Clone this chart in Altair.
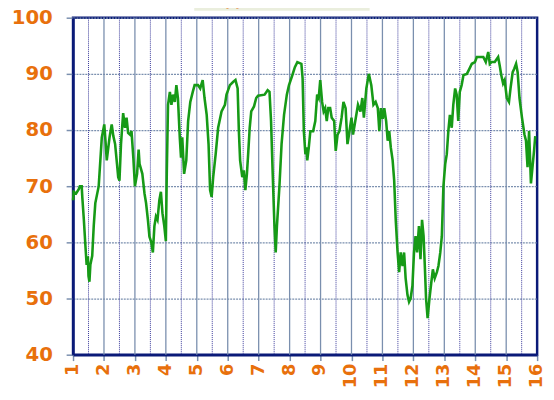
import altair as alt
import pandas as pd

# series
xs = [1.00,1.02,1.10,1.19,1.22,1.28,1.30,1.35,1.40,1.44,1.48,1.50,1.53,1.56,1.62,1.67,1.72,1.83,1.93,2.01,
      2.05,2.09,2.18,2.25,2.30,2.36,2.42,2.46,2.50,2.55,2.62,2.68,2.73,2.78,2.84,2.89,2.95,3.00,3.07,3.12,
      3.15,3.24,3.31,3.36,3.42,3.47,3.53,3.58,3.63,3.68,3.73,3.79,3.84,3.89,3.95,4.00,4.03,4.07,4.13,4.18,
      4.23,4.29,4.34,4.39,4.45,4.49,4.53,4.59,4.66,4.72,4.79,4.87,4.93,5.04,5.11,5.19,5.25,5.32,5.38,5.43,
      5.48,5.53,5.61,5.69,5.80,5.91,5.96,6.07,6.18,6.25,6.32,6.36,6.40,6.47,6.52,6.57,6.62,6.66,6.71,6.76,
      6.85,6.92,6.98,7.19,7.29,7.35,7.40,7.45,7.51,7.55,7.59,7.67,7.74,7.82,7.91,7.98,8.09,8.17,8.25,8.38,
      8.42,8.46,8.51,8.54,8.57,8.62,8.67,8.76,8.83,8.89,8.94,8.99,9.05,9.10,9.15,9.20,9.25,9.31,9.36,9.44,
      9.49,9.55,9.61,9.68,9.74,9.81,9.87,9.92,10.00,10.05,10.14,10.21,10.29,10.35,10.40,10.48,10.56,10.64,10.71,10.78,
      10.85,10.90,10.95,11.01,11.06,11.12,11.17,11.22,11.27,11.33,11.38,11.43,11.49,11.54,11.59,11.65,11.70,11.75,11.81,11.86,
      11.91,11.97,12.02,12.07,12.12,12.18,12.23,12.28,12.33,12.37,12.41,12.46,12.52,12.58,12.63,12.69,12.76,12.81,12.87,12.92,
      12.97,13.03,13.08,13.13,13.18,13.24,13.29,13.35,13.40,13.45,13.50,13.56,13.62,13.73,13.81,13.89,13.99,14.05,14.26,14.34,
      14.42,14.47,14.52,14.63,14.74,14.79,14.84,14.90,14.95,15.02,15.09,15.14,15.21,15.26,15.32,15.37,15.43,15.51,15.59,15.64,
      15.69,15.74,15.80,15.85,15.90,15.94]
ys = [67.5,69,68.7,69.5,70,70,68,64,59.4,56,57.5,54,53,56,57.6,63,67,70,78.7,81,
      78,74.6,78.7,81,79,77.5,74,71.6,71,77.5,83,80.4,82.2,79.5,79.2,79.8,75,70,72.2,76.5,
      74,72.2,68.7,67,64,61,60,58.2,62.9,64.6,64,67.5,69,65.2,62.9,60.2,72.2,84.5,86.8,84.5,
      86.3,85,88,85.7,78.7,75.1,78.7,72.2,74.6,81.6,85,86.8,88,88,87.4,88.9,85.7,82.7,77.5,69.3,
      68.1,71.6,75.7,80.4,83.3,84.5,86.3,88,88.6,88.9,87.4,79.8,74.6,71.6,72.8,69.3,72.2,75.7,80.4,83.3,
      84.2,85.7,86.1,86.3,87.1,86.8,81.6,72.8,62.9,58.2,62.9,69.9,77.5,82.7,86.3,88,89.8,91.2,92.1,91.8,
      89.2,79.8,75.7,76.9,74.6,76.9,79.8,79.8,81.6,86.3,85.7,88.9,85,83.3,83.9,81.6,83.9,83.9,82.2,81.6,
      76.3,79.2,79.8,82.2,85,83.9,77.5,79.2,82.2,79.2,82.2,84.5,83.3,85.7,82.2,87.4,90,88,84.5,85,
      83.9,79.8,83.9,82,83.9,81.6,78.1,79.8,76.9,74.6,71,64,58.2,54.7,58.2,55.8,58.2,53.6,50.6,49.4,
      50,52.3,58.2,61.1,58.2,62.9,57,64,61.1,55.8,50,46.5,50,52.9,55.2,53.6,54.7,55.8,58.2,61.1,
      69.9,74,75.7,79.8,82.7,80.4,84.5,87.4,86.3,81.6,86.8,88,89.8,90,90.9,91.8,92.1,93,93,92.1,
      93.9,91.8,92.1,92.1,93,91.5,89.8,88.3,88.9,85.7,85,87.4,90.3,90.9,91.8,90.3,85.7,82.2,79.2,78.1,
      73.4,79.8,70.5,73.4,76.3,78.9]

x_ticks = list(range(1, 17))
y_ticks = [40, 50, 60, 70, 80, 90, 100]
half_grid = [1.5, 2.5, 3.5, 4.5, 5.5, 6.5, 7.5, 8.5, 9.5, 10.5, 11.5, 12.5, 13.5, 14.5, 15.5]
int_grid = list(range(2, 16))
title_text = "ОДОБРЕНИЕ, %"

orange = "#e8700c"
navy = "#0a1a78"
gridc = "#7a8fae"

df = pd.DataFrame({"x": xs, "y": ys})
xscale = alt.Scale(domain=[1, 16], nice=False, zero=False)
yscale = alt.Scale(domain=[40, 100], nice=False, zero=False)

xaxis = alt.Axis(values=x_ticks, title=None, labels=False, grid=False,
                 tickColor=gridc, tickSize=6, tickWidth=1.5,
                 domainColor=navy, domainWidth=2.5)
yaxis = alt.Axis(values=y_ticks, title=None, grid=True, gridColor=gridc,
                 gridDash=[2, 1], gridWidth=1.3,
                 labelColor=orange, labelFont="DejaVu Sans", labelFontWeight="bold",
                 labelFontSize=20, tickColor=gridc, tickSize=7, tickWidth=1.5,
                 labelPadding=14, domainColor=navy, domainWidth=2.5, labelFlush=False)

vhalf = alt.Chart(pd.DataFrame({"g": half_grid})).mark_rule(
    color="#3a3a9a", strokeWidth=1, strokeDash=[1, 1]
).encode(x=alt.X("g:Q", scale=xscale, axis=xaxis))

vint = alt.Chart(pd.DataFrame({"g": int_grid})).mark_rule(
    color=gridc, strokeWidth=1.3
).encode(x=alt.X("g:Q", scale=xscale, axis=xaxis))

line = alt.Chart(df).mark_line(color="#169a16", strokeWidth=2.6).encode(
    x=alt.X("x:Q", scale=xscale, axis=xaxis),
    y=alt.Y("y:Q", scale=yscale, axis=yaxis),
)

xlabels = alt.Chart(pd.DataFrame({"t": x_ticks})).mark_text(
    angle=270, align="right", baseline="middle", color=orange,
    font="DejaVu Sans", fontWeight="bold", fontSize=18
).encode(
    x=alt.X("t:Q", scale=xscale, axis=xaxis),
    y=alt.value(351),
    text=alt.Text("t:Q"),
)

one = pd.DataFrame({"a": [0]})
tbox = alt.Chart(one).mark_rect(color="#eaeedd").encode(
    x=alt.value(123), x2=alt.value(301), y=alt.value(-16), y2=alt.value(-7)
)
ttext = alt.Chart(one).mark_text(
    text=title_text, color=orange, font="DejaVu Sans", fontWeight="bold",
    fontSize=16, baseline="alphabetic", align="center"
).encode(x=alt.value(212), y=alt.value(-12))

chart = alt.layer(vhalf, vint, line, xlabels, tbox, ttext).properties(
    width=471, height=342,
    autosize=alt.AutoSizeParams(type="none"),
    padding={"left": 66, "top": 7, "right": 9, "bottom": 34},
).configure_view(stroke=navy, strokeWidth=2.5)

chart.save("out.html", embed_options={"renderer": "svg", "actions": False})
